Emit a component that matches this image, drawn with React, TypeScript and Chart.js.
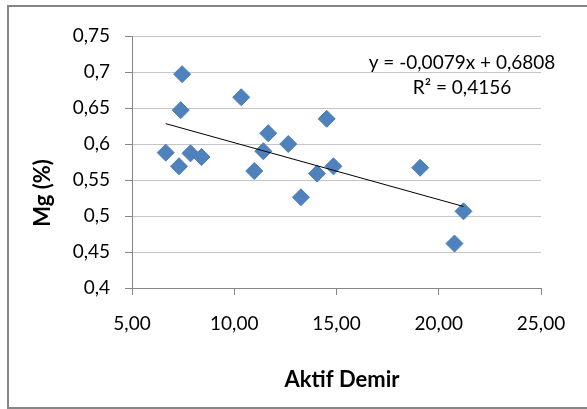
import React, { useEffect, useRef } from "react";
import { Chart, registerables } from "chart.js";

Chart.register(...registerables);

const aktifDemir = [7.45, 7.38, 10.34, 14.52, 11.66, 12.64, 6.65, 11.42, 7.86, 8.4, 7.3, 10.98, 14.85, 14.05, 19.09, 13.26, 21.21, 20.77];
const mgPercent = [0.697, 0.647, 0.665, 0.635, 0.615, 0.6, 0.588, 0.59, 0.587, 0.582, 0.569, 0.5625, 0.569, 0.559, 0.567, 0.526, 0.5065, 0.4617];
const trendSlope = -0.0079;
const trendIntercept = 0.6808;
const equationLines = ["y = -0,0079x + 0,6808", "R² = 0,4156"];
const xTitle = "Aktif Demir";
const yTitle = "Mg (%)";

const FONT = "Lato, 'Noto Sans', sans-serif";

export default function App() {
  const canvasRef = useRef<HTMLCanvasElement | null>(null);

  useEffect(() => {
    const canvas = canvasRef.current;
    if (!canvas) return;
    const points = aktifDemir.map((x, i) => ({ x, y: mgPercent[i] }));
    const xMin = Math.min(...aktifDemir);
    const xMax = Math.max(...aktifDemir);
    const trend = [xMin, xMax].map((x) => ({ x, y: trendSlope * x + trendIntercept }));

    const labelsPlugin = {
      id: "labelsPlugin",
      afterDraw(chart: any) {
        const ctx = chart.ctx;
        ctx.save();
        ctx.fillStyle = "#000";
        ctx.textAlign = "center";
        ctx.textBaseline = "middle";
        ctx.font = `19px ${FONT}`;
        ctx.fillText(equationLines[0], 462, 63);
        ctx.fillText(equationLines[1], 462, 88);
        ctx.font = `bold 22px ${FONT}`;
        ctx.fillText(xTitle, 342, 380);
        ctx.translate(43, 193);
        ctx.rotate(-Math.PI / 2);
        ctx.fillText(yTitle, 0, 0);
        ctx.restore();
      },
    };

    const chart = new Chart(canvas, {
      type: "scatter",
      data: {
        datasets: [
          {
            type: "line",
            data: trend,
            borderColor: "#000",
            borderWidth: 1,
            pointRadius: 0,
            fill: false,
          } as any,
          {
            data: points,
            pointStyle: "rectRot",
            pointRadius: 8.5,
            backgroundColor: "#4f81bd",
            borderColor: "#4a7ebb",
            borderWidth: 1,
          },
        ],
      },
      options: {
        animation: false,
        responsive: false,
        layout: { padding: { left: 0, right: 46, top: 36, bottom: 0 } },
        plugins: { legend: { display: false }, tooltip: { enabled: false } },
        scales: {
          x: {
            type: "linear",
            min: 5,
            max: 25,
            afterFit: (s: any) => {
              s.height = 121;
            },
            ticks: {
              stepSize: 5,
              color: "#000",
              padding: 17,
              font: { family: FONT, size: 19 },
              callback: (v: any) => Number(v).toFixed(2).replace(".", ","),
            },
            grid: {
              drawOnChartArea: false,
              drawTicks: true,
              tickLength: 7,
              tickColor: "#868686",
            },
            border: { color: "#868686", width: 1 },
          },
          y: {
            type: "linear",
            min: 0.4,
            max: 0.75,
            afterFit: (s: any) => {
              s.width = 132;
            },
            ticks: {
              stepSize: 0.05,
              color: "#000",
              padding: 15,
              font: { family: FONT, size: 19 },
              callback: (v: any) => String(Math.round(Number(v) * 100) / 100).replace(".", ","),
            },
            grid: {
              color: "#c6c6c6",
              drawTicks: true,
              tickLength: 7,
              tickColor: "#868686",
            },
            border: { color: "#868686", width: 1 },
          },
        },
      },
      plugins: [labelsPlugin],
    });
    return () => chart.destroy();
  }, []);

  return (
    <div style={{ position: "absolute", left: 0, top: 0, width: 587, height: 409, overflow: "hidden", background: "#fff" }}>
      <div
        style={{
          position: "absolute",
          left: 7,
          top: 5,
          width: 700,
          height: 404,
          border: "2px solid #868686",
          boxSizing: "border-box",
        }}
      />
      <canvas ref={canvasRef} width={587} height={409} style={{ position: "absolute", left: 0, top: 0 }} />
    </div>
  );
}
